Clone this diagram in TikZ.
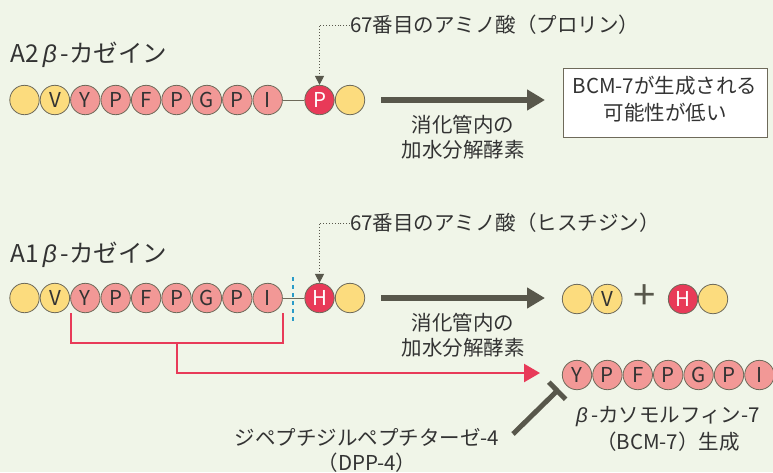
\documentclass[tikz,border=0pt]{standalone}
\usepackage{fontspec}
\setmainfont{Noto Sans CJK JP}
\newfontfamily\betafont{Liberation Sans}
\usetikzlibrary{arrows.meta}
\definecolor{bg}{HTML}{F0F5E8}
\definecolor{ylw}{HTML}{FCDC7E}
\definecolor{pnk}{HTML}{F29896}
\definecolor{rd}{HTML}{E83A58}
\definecolor{dk}{HTML}{58574B}
\definecolor{edge}{HTML}{6E6A5A}
\definecolor{txt}{HTML}{333333}
\definecolor{blu}{HTML}{2A9BC8}
\newcommand{\bet}{{\betafont\itshape β}}
\tikzset{
  aa/.style={circle,draw=edge,line width=0.8pt,minimum size=29.4pt,inner sep=0pt,font=\fontsize{20.5}{20.5}\selectfont,text=txt},
  yl/.style={aa,fill=ylw},
  pk/.style={aa,fill=pnk},
  rr/.style={aa,fill=rd,text=white},
  lbl/.style={text=txt,font=\fontsize{20.5}{25}\selectfont,align=center,inner sep=0pt},
  ttl/.style={text=txt,font=\fontsize{24.5}{24.5}\selectfont,inner sep=0pt},
  bigarrow/.style={draw=dk,line width=6pt,-{Triangle[length=18pt,width=20pt]}},
  dotarrow/.style={draw=dk,line width=0.9pt,dotted,-{Triangle[length=9pt,width=9pt]}},
  redline/.style={draw=rd,line width=2.4pt},
}
\begin{document}
\begin{tikzpicture}[x=1pt,y=-1pt]
\fill[bg] (0,0) rectangle (773,472);
\useasboundingbox (0,0) rectangle (773,472);

% ---------- A2 ----------
\node[ttl,anchor=base west] (t2) at (10,62) {A2\,\bet\,-カゼイン};
\foreach \i/\c/\s in {0//yl,1/V/yl,2/Y/pk,3/P/pk,4/F/pk,5/P/pk,6/G/pk,7/P/pk,8/I/pk}{
  \node[\s] (a\i) at ({24.5+30.4*\i},100) {\c};
}
\node[rr] (aP) at (319.5,100) {P};
\node[yl] (aY) at (350,100) {};
\draw[edge,line width=0.9pt] (a8) -- (aP);
\node[lbl,anchor=west] (n2) at (350,25) {67番目のアミノ酸（プロリン）};
\coordinate (c2) at (319.5,25);
\draw[dotarrow] (n2.west) -- (c2) -- (aP.north);
\coordinate (s2) at (381,100);
\coordinate (e2) at (545,100);
\draw[bigarrow] (s2) -- (e2);
\node[lbl] (d2) at (463,137) {消化管内の\\加水分解酵素};
\node[draw=edge,fill=white,line width=0.9pt,minimum width=204pt,minimum height=69pt] (box) at (665,102.5) {};
\node[lbl,font=\fontsize{20.5}{27}\selectfont] (boxt) at (665,99) {BCM-7が生成される\\可能性が低い};

% ---------- A1 ----------
\node[ttl,anchor=base west] (t1) at (10,262) {A1\,\bet\,-カゼイン};
\foreach \i/\c/\s in {0//yl,1/V/yl,2/Y/pk,3/P/pk,4/F/pk,5/P/pk,6/G/pk,7/P/pk,8/I/pk}{
  \node[\s] (b\i) at ({24.5+30.4*\i},298) {\c};
}
\node[rr] (bH) at (319.5,298) {H};
\node[yl] (bY) at (350,298) {};
\draw[edge,line width=0.9pt] (b8) -- (bH);
\coordinate (cutT) at (293,277);
\coordinate (cutB) at (293,322);
\draw[blu,line width=2.2pt,dash pattern=on 4pt off 4pt] (cutT) -- (cutB);
\node[lbl,anchor=west] (n1) at (350,223) {67番目のアミノ酸（ヒスチジン）};
\coordinate (c1) at (319.5,223);
\draw[dotarrow] (n1.west) -- (c1) -- (bH.north);
\coordinate (s1) at (381,298);
\coordinate (e1) at (545,298);
\draw[bigarrow] (s1) -- (e1);
\node[lbl] (d1) at (463,335) {消化管内の\\加水分解酵素};

% products
\node[yl] (p1) at (577,299) {};
\node[yl] (p2) at (607.4,299) {V};
\node[text=dk,font=\fontsize{40}{40}\selectfont,inner sep=0pt] (plus) at (645,297) {+};
\node[rr] (p3) at (683,299) {H};
\node[yl] (p4) at (713,299) {};

% BCM-7 chain
\foreach \i/\c in {0/Y,1/P,2/F,3/P,4/G,5/P,6/I}{
  \node[pk] (m\i) at ({577+30.4*\i},375) {\c};
}
\node[lbl,font=\fontsize{20.5}{27}\selectfont] (bcm) at (668,428.5) {\bet\,-カソモルフィン-7\\（BCM-7）生成};

% red bracket
\coordinate (r1) at (71,343);
\coordinate (r2) at (283,343);
\coordinate (r3) at (177,343);
\coordinate (r4) at (177,373);
\coordinate (r5) at (540,373);
\draw[redline] (71,313) -- (r1) -- (r2) -- (283,313);
\draw[redline,-{Triangle[length=16pt,width=18pt]}] (r3) -- (r4) -- (r5);

% DPP-4
\node[lbl] (dpp) at (367,450.5) {ジペプチジルペプチターゼ-4\\（DPP-4）};
\coordinate (i1) at (513,434);
\coordinate (i2) at (559,389);
\draw[dk,line width=5pt,-{Bar[width=24pt]}] (i1) -- (i2);
\end{tikzpicture}
\end{document}
